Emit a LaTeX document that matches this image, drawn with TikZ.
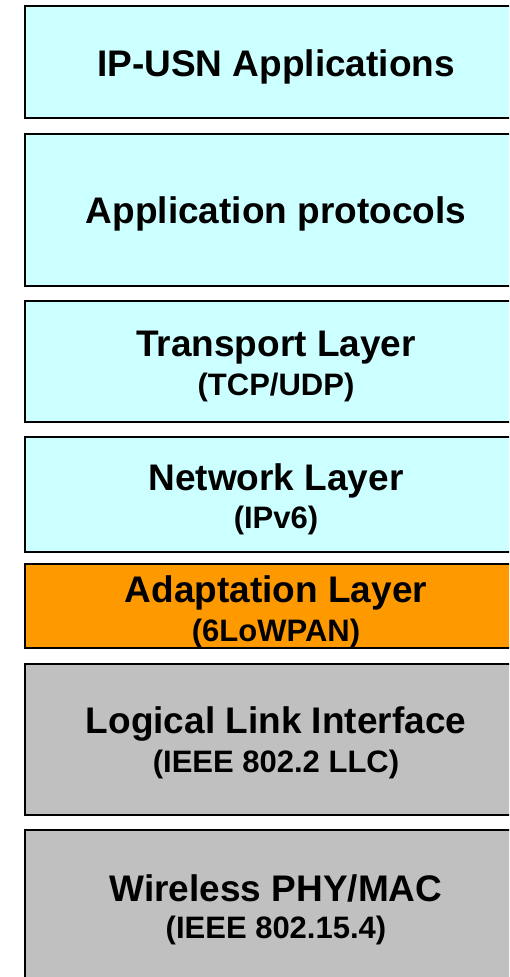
\documentclass[tikz,border=0pt]{standalone}
\usepackage{fontspec}
\setmainfont{Liberation Sans}
\begin{document}
\begin{tikzpicture}[x=1pt,y=-1pt,
  layer/.style={draw=black,line width=2pt,rectangle,inner sep=0pt,minimum width=502pt},
  upper/.style={layer,fill=cyanpale},
  adapt/.style={layer,fill=adaptorange},
  lower/.style={layer,fill=linkgray},
  title/.style={anchor=base,inner sep=0pt,font=\bfseries\fontsize{37}{40}\selectfont},
  sub/.style={anchor=base,inner sep=0pt,font=\bfseries\fontsize{31}{34}\selectfont}]
\definecolor{cyanpale}{HTML}{CCFFFF}
\definecolor{adaptorange}{HTML}{FF9900}
\definecolor{linkgray}{HTML}{C0C0C0}
\useasboundingbox (0,0) rectangle (509,977);
\clip (0,0) rectangle (509,977);
% protocol stack, top to bottom
\node[upper, minimum height=112pt] (apps)  at (276,62) {};
\node[upper, minimum height=152pt] (proto) at (276,210) {};
\node[upper, minimum height=121pt] (trans) at (276,361.5) {};
\node[upper, minimum height=115pt] (net)   at (276,494.5) {};
\node[adapt, minimum height=84pt]  (adpt)  at (276,606) {};
\node[lower, minimum height=151pt] (llc)   at (276,739.5) {};
\node[lower, minimum height=152pt] (phy)   at (276,906) {};
% layer names
\node[title] (appsT)  at (276,76)  {IP-USN Applications};
\node[title] (protoT) at (276,223) {Application protocols};
\node[title] (transT) at (276,356) {Transport Layer};
\node[sub]   (transS) at (276,395) {(TCP/UDP)};
\node[title] (netT)   at (276,490) {Network Layer};
\node[sub]   (netS)   at (276,528) {(IPv6)};
\node[title] (adptT)  at (276,602) {Adaptation Layer};
\node[sub]   (adptS)  at (276,641) {(6LoWPAN)};
\node[title] (llcT)   at (276,733) {Logical Link Interface};
\node[sub]   (llcS)   at (276,772) {(IEEE 802.2 LLC)};
\node[title] (phyT)   at (276,901) {Wireless PHY/MAC};
\node[sub]   (phyS)   at (276,938) {(IEEE 802.15.4)};
\end{tikzpicture}
\end{document}
